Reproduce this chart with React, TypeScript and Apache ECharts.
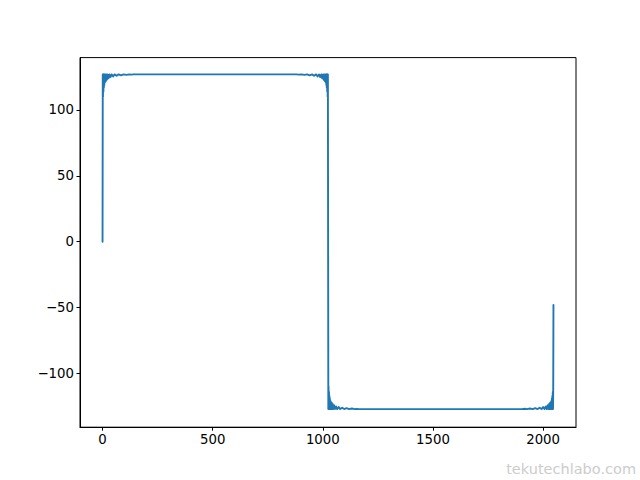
import React, { useEffect, useRef } from "react";
import * as echarts from "echarts";

// Sample index (x) and value (y)
const sampleX: number[] = [
  0, 1, 2, 3, 4, 5, 6, 7, 8, 9, 11, 13, 15, 17, 20, 23, 27, 31, 36, 41, 48, 55, 64, 73, 84, 95, 108, 121, 130, 140,
  880, 892, 903, 916, 929, 940, 951, 960, 969, 976, 983, 988, 993, 997, 1001, 1004, 1007, 1009, 1011, 1013, 1015,
  1016, 1017, 1018, 1019, 1020, 1021, 1022, 1023,
  1024,
  1025, 1026, 1027, 1028, 1029, 1030, 1031, 1032, 1033, 1035, 1037, 1039, 1041, 1044, 1047, 1051, 1055, 1060, 1065,
  1072, 1079, 1088, 1097, 1108, 1119, 1132, 1145, 1154, 1164,
  1904, 1916, 1927, 1940, 1953, 1964, 1975, 1984, 1993, 2000, 2007, 2012, 2017, 2021, 2025, 2028, 2031, 2033, 2035,
  2037, 2039, 2040, 2041, 2042, 2043, 2044, 2045, 2046, 2047,
];

const sampleY: number[] = [
  0, 127, 110, 127, 114, 127, 117, 127, 119, 127, 121, 127, 122, 127, 123, 127, 124, 127, 125, 127, 125.5, 127, 126,
  127, 126.3, 127, 126.6, 127, 126.8, 127,
  127, 126.8, 127, 126.6, 127, 126.3, 127, 126, 127, 125.5, 127, 125, 127, 124, 127, 123, 127, 122, 127, 121, 127,
  119, 127, 117, 127, 114, 127, 110, 127,
  0,
  -127, -110, -127, -114, -127, -117, -127, -119, -127, -121, -127, -122, -127, -123, -127, -124, -127, -125, -127,
  -125.5, -127, -126, -127, -126.3, -127, -126.6, -127, -126.8, -127,
  -127, -126.8, -127, -126.6, -127, -126.3, -127, -126, -127, -125.5, -127, -125, -127, -124, -127, -123, -127, -122,
  -127, -121, -127, -119, -127, -117, -127, -114, -127, -110, -48,
];

const xTicks: number[] = [0, 500, 1000, 1500, 2000];
const yTicks: number[] = [-100, -50, 0, 50, 100];

const minus = (v: number) => String(v).replace("-", "\u2212");

export default function App() {
  const ref = useRef<HTMLDivElement>(null);

  useEffect(() => {
    if (!ref.current) return;
    const chart = echarts.init(ref.current, undefined, { renderer: "svg" });
    const data = sampleX.map((x, i) => [x, sampleY[i]]);
    const font = "DejaVu Sans";
    chart.setOption({
      animation: false,
      backgroundColor: "#ffffff",
      grid: {
        left: 80,
        right: 64,
        top: 57.6,
        bottom: 52.8,
        show: true,
        borderColor: "#000000",
        borderWidth: 1,
        containLabel: false,
      },
      xAxis: {
        type: "value",
        min: -102.35,
        max: 2149.35,
        splitLine: { show: false },
        axisLine: { show: true, onZero: false, lineStyle: { color: "#000", width: 1 } },
        axisTick: {
          show: true,
          inside: false,
          length: 3.5,
          lineStyle: { color: "#000", width: 1 },
          customValues: xTicks,
        },
        axisLabel: {
          customValues: xTicks,
          color: "#000",
          fontFamily: font,
          fontSize: 13.3,
          margin: 6,
          formatter: (v: number) => minus(v),
        },
      },
      yAxis: {
        type: "value",
        min: -140.75,
        max: 139.75,
        splitLine: { show: false },
        axisLine: { show: true, onZero: false, lineStyle: { color: "#000", width: 1 } },
        axisTick: {
          show: true,
          inside: false,
          length: 3.5,
          lineStyle: { color: "#000", width: 1 },
          customValues: yTicks,
        },
        axisLabel: {
          customValues: yTicks,
          color: "#000",
          fontFamily: font,
          fontSize: 13.3,
          margin: 6,
          formatter: (v: number) => minus(v),
        },
      },
      series: [
        {
          type: "line",
          data,
          showSymbol: false,
          symbol: "none",
          lineStyle: { color: "#1f77b4", width: 1.9, join: "round", cap: "round" },
          z: 3,
        },
      ],
      graphic: [
        {
          type: "text",
          right: 4,
          top: 461,
          style: {
            text: "tekutechlabo.com",
            fill: "#cccccc",
            font: "14.5px DejaVu Sans",
          },
        },
      ],
    });
    return () => chart.dispose();
  }, []);

  return (
    <div
      ref={ref}
      style={{ position: "fixed", left: 0, top: 0, width: 640, height: 480 }}
    />
  );
}
